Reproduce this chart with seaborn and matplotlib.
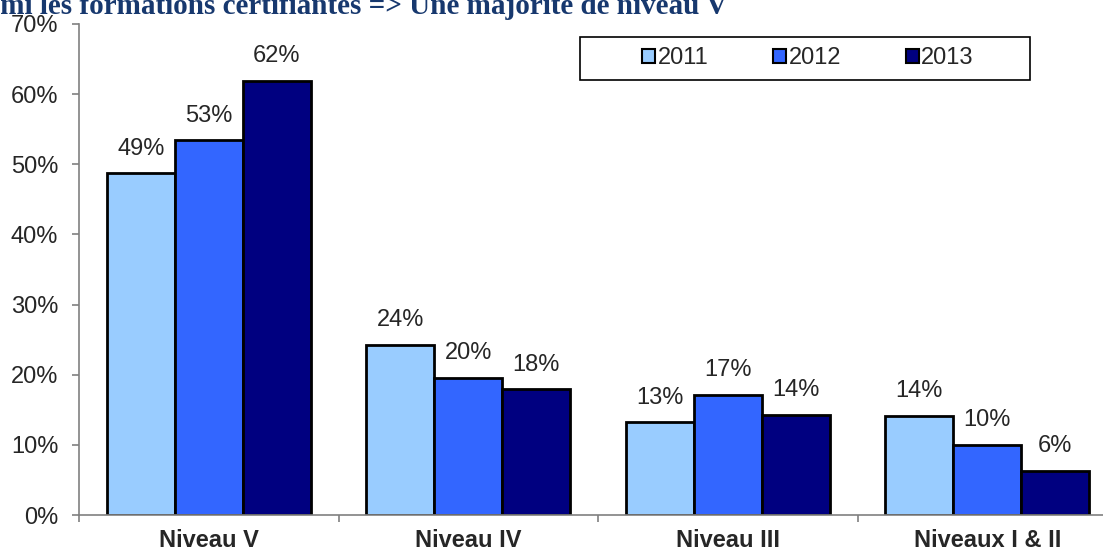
import numpy as np
import pandas as pd
import seaborn as sns
import matplotlib.pyplot as plt
from matplotlib.patches import Patch, Rectangle
from matplotlib.ticker import PercentFormatter, FixedLocator

# data (percent of certifying trainings per level)
niveaux = ['Niveau V', 'Niveau IV', 'Niveau III', 'Niveaux I & II']
annees = ['2011', '2012', '2013']
val_2011 = [48.7, 24.3, 13.2, 14.1]
val_2012 = [53.4, 19.6, 17.1, 10.0]
val_2013 = [61.9, 17.9, 14.3, 6.3]
couleurs = ['#99CCFF', '#3366FF', '#000080']
titre = 'Parmi les formations certifiantes => Une majorité de niveau V'

df = pd.DataFrame({
    'niveau': niveaux * 3,
    'annee': np.repeat(annees, len(niveaux)),
    'pct': val_2011 + val_2012 + val_2013,
})

sns.set_style('white')
plt.rcParams['font.family'] = ['Liberation Sans', 'DejaVu Sans']
fs = 17
grey = '#808080'

W, H = 1103, 554
fig = plt.figure(figsize=(W / 100, H / 100), dpi=100)
# axes runs a bit past the right edge, like the original
ax = fig.add_axes([79 / W, 1 - 515 / H, 1038 / W, (515 - 24) / H])

sns.barplot(data=df, x='niveau', y='pct', hue='annee', palette=couleurs,
            width=0.786, edgecolor='black', linewidth=2, ax=ax, legend=False,
            saturation=1)

for cont in ax.containers:
    ax.bar_label(cont, labels=[f'{v:.0f}%' for v in cont.datavalues],
                 padding=10, fontsize=fs)

ax.set_ylim(0, 70)
ax.set_xlim(-0.5, 3.5)
ax.set_yticks(np.arange(0, 71, 10))
ax.yaxis.set_major_formatter(PercentFormatter(xmax=100, decimals=0))
ax.set_xlabel('')
ax.set_ylabel('')

for s in ['top', 'right']:
    ax.spines[s].set_visible(False)
for s in ['left', 'bottom']:
    ax.spines[s].set_color(grey)
    ax.spines[s].set_linewidth(1.2)

ax.tick_params(axis='y', direction='out', length=5, width=1.2, color=grey,
               labelsize=fs, pad=10, left=True)
ax.tick_params(axis='x', which='major', length=0, pad=10, labelsize=fs)
ax.xaxis.set_minor_locator(FixedLocator(np.arange(-0.5, 4, 1)))
ax.tick_params(axis='x', which='minor', direction='out', length=5, width=1.2,
               color=grey, bottom=True)
for lab in ax.get_xticklabels():
    lab.set_fontweight('bold')

# legend in its own box
fig.patches.append(Rectangle((580 / W, 1 - 80 / H), 450 / W, 43 / H,
                             transform=fig.transFigure, fill=False,
                             edgecolor='black', linewidth=1.2))
handles = [Patch(facecolor=c, edgecolor='black', linewidth=1.5) for c in couleurs]
fig.legend(handles, annees, loc='center', bbox_to_anchor=(808 / W, 1 - 58.5 / H),
           ncol=3, frameon=False, fontsize=fs, handlelength=0.55, handleheight=0.55,
           handletextpad=0.1, columnspacing=2.75)

# title is cut by the top/left edge in the original
fig.text(727 / W, 1 - 14.5 / H, titre, ha='right', va='baseline', fontsize=21,
         fontweight='bold', family=['Liberation Serif', 'DejaVu Serif'],
         color='#17386E')

fig.savefig('out.png', dpi=100)
